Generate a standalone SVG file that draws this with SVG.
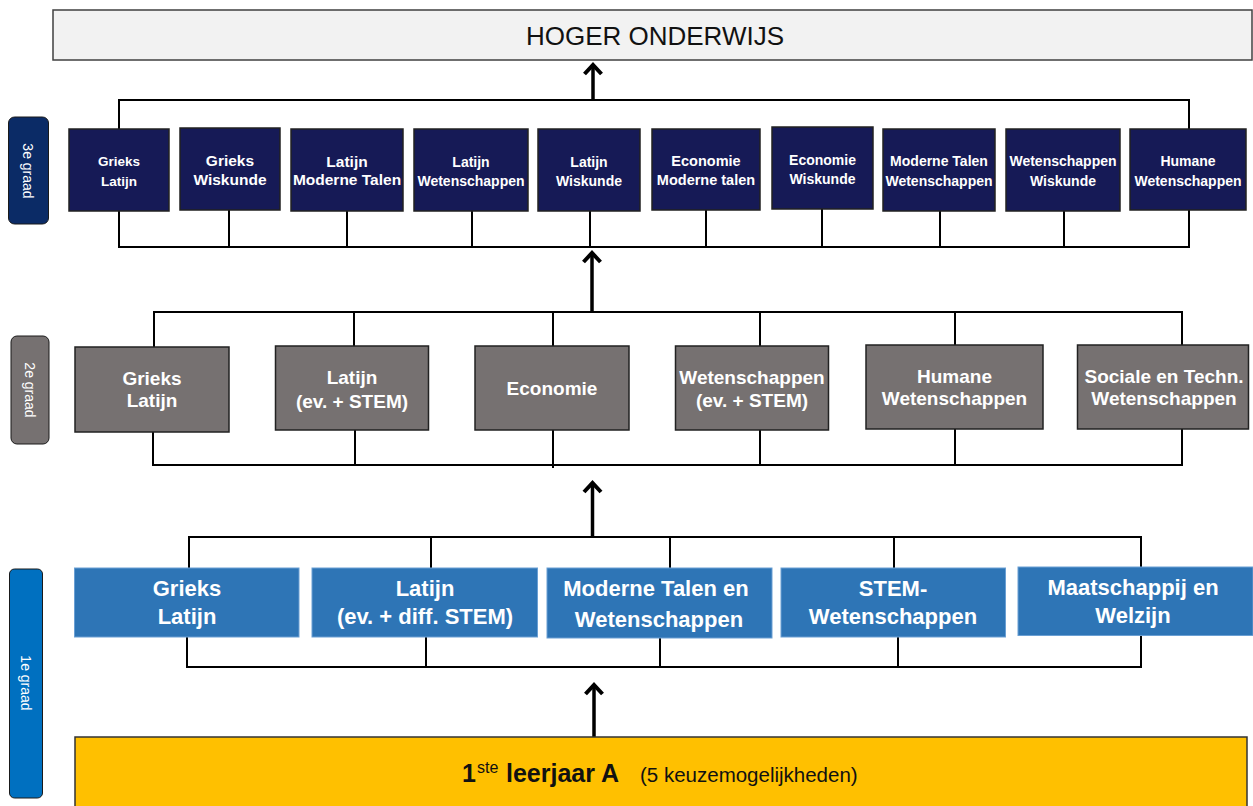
<svg xmlns="http://www.w3.org/2000/svg" width="1253" height="806" viewBox="0 0 1253 806">
<style>
.t{font-family:"Liberation Sans",Arial,sans-serif;font-weight:bold;fill:#fff;text-anchor:middle}
.n3{fill:#161a56;stroke:#222;stroke-width:1.5}
.n2{fill:#767171;stroke:#222;stroke-width:1.5}
.n1{fill:#2e75b6;stroke:#6a9fd3;stroke-width:1}
.lbl{font-family:"Liberation Sans",Arial,sans-serif;fill:#fff;text-anchor:middle;font-size:14px}
.c{fill:none;stroke:#000;stroke-width:2}
.a{fill:none;stroke:#000;stroke-width:3.5;marker-end:url(#ah)}
</style>
<defs>
<marker id="ah" viewBox="-20 -12 26 24" markerWidth="26" markerHeight="24" refX="0" refY="0" orient="auto" markerUnits="userSpaceOnUse">
<path d="M-9,-8.5 L0,0 L-9,8.5" fill="none" stroke="#000" stroke-width="4"/>
</marker>
</defs>
<rect width="1253" height="806" fill="#fff"/>

<g id="hoger">
<rect x="53" y="10" width="1199" height="50" fill="#f2f2f2" stroke="#404040" stroke-width="1.5"/>
<text x="655" y="45" font-family="Liberation Sans,Arial,sans-serif" font-size="26" fill="#111" text-anchor="middle">HOGER ONDERWIJS</text>
</g>

<g id="label3">
<rect x="8.5" y="117" width="40" height="107" rx="6" fill="#0b2b66" stroke="#1a1a1a" stroke-width="1"/>
<text class="lbl" transform="translate(23,171) rotate(90)">3e graad</text>
</g>
<g id="label2">
<rect x="11" y="336" width="38" height="108" rx="6" fill="#767171" stroke="#1a1a1a" stroke-width="1"/>
<text class="lbl" transform="translate(25,390) rotate(90)">2e graad</text>
</g>
<g id="label1">
<rect x="9.5" y="569" width="33" height="229" rx="5" fill="#0070c0" stroke="#1a1a1a" stroke-width="1"/>
<text class="lbl" transform="translate(21,683) rotate(90)">1e graad</text>
</g>

<g id="connectors">
<path class="c" d="M119,129 V100 H1189 V129"/>
<path class="c" d="M119,211 V247 H1189 V210 M229,210 V247 M347,211 V247 M472,211 V247 M590,211 V247 M706,210 V247 M822,209 V247 M940,211 V247 M1064,211 V247"/>
<path class="a" d="M593,99 V65"/>
<path class="c" d="M154,347 V312 H1182 V345 M354,312 V346 M553,312 V346 M760,312 V346 M955,312 V345"/>
<path class="c" d="M153,432 V465 H1182 V429 M355,430 V465 M553,430 V468 M760,430 V465 M955,429 V465"/>
<path class="a" d="M592,311 V253"/>
<path class="c" d="M189,568 V537 H1141 V567 M431,537 V568 M670,537 V568 M894,537 V568"/>
<path class="c" d="M187,637 V667 H1141 V636 M426,637 V667 M660,638 V667 M898,637 V667"/>
<path class="a" d="M592.5,536 V483"/>
<path class="a" d="M594,737 V685"/>
</g>

<g id="g3-1"><rect class="n3" x="69" y="129" width="100" height="82"/><text class="t" font-size="13.5"><tspan x="119" y="166">Grieks</tspan><tspan x="119" y="186">Latijn</tspan></text></g>
<g id="g3-2"><rect class="n3" x="180" y="128" width="100" height="82"/><text class="t" font-size="15.5"><tspan x="230" y="165.5">Grieks</tspan><tspan x="230" y="185">Wiskunde</tspan></text></g>
<g id="g3-3"><rect class="n3" x="291" y="129" width="112" height="82"/><text class="t" font-size="15.5"><tspan x="347" y="166.5">Latijn</tspan><tspan x="347" y="185">Moderne Talen</tspan></text></g>
<g id="g3-4"><rect class="n3" x="414" y="129" width="114" height="82"/><text class="t" font-size="14"><tspan x="471" y="167">Latijn</tspan><tspan x="471" y="186">Wetenschappen</tspan></text></g>
<g id="g3-5"><rect class="n3" x="538" y="129" width="102" height="82"/><text class="t" font-size="14"><tspan x="589" y="166.5">Latijn</tspan><tspan x="589" y="186">Wiskunde</tspan></text></g>
<g id="g3-6"><rect class="n3" x="652" y="129" width="108" height="81"/><text class="t" font-size="14.5"><tspan x="706" y="165.5">Economie</tspan><tspan x="706" y="185">Moderne talen</tspan></text></g>
<g id="g3-7"><rect class="n3" x="772" y="127" width="101" height="82"/><text class="t" font-size="14"><tspan x="822.5" y="164.5">Economie</tspan><tspan x="822.5" y="184">Wiskunde</tspan></text></g>
<g id="g3-8"><rect class="n3" x="883" y="129" width="112" height="82"/><text class="t" font-size="14"><tspan x="939" y="166">Moderne Talen</tspan><tspan x="939" y="185.5">Wetenschappen</tspan></text></g>
<g id="g3-9"><rect class="n3" x="1006" y="129" width="114" height="82"/><text class="t" font-size="14"><tspan x="1063" y="166">Wetenschappen</tspan><tspan x="1063" y="186">Wiskunde</tspan></text></g>
<g id="g3-10"><rect class="n3" x="1130" y="129" width="116" height="81"/><text class="t" font-size="14"><tspan x="1188" y="165.5">Humane</tspan><tspan x="1188" y="185.5">Wetenschappen</tspan></text></g>

<g id="g2-1"><rect class="n2" x="75" y="347" width="154" height="85"/><text class="t" font-size="19"><tspan x="152" y="385">Grieks</tspan><tspan x="152" y="407">Latijn</tspan></text></g>
<g id="g2-2"><rect class="n2" x="275.5" y="346" width="153" height="84"/><text class="t" font-size="19"><tspan x="352" y="383.5">Latijn</tspan><tspan x="352" y="407.5">(ev. + STEM)</tspan></text></g>
<g id="g2-3"><rect class="n2" x="475" y="346" width="154" height="84"/><text class="t" font-size="19"><tspan x="552" y="395">Economie</tspan></text></g>
<g id="g2-4"><rect class="n2" x="675.5" y="346" width="153" height="84"/><text class="t" font-size="19"><tspan x="752" y="383.5">Wetenschappen</tspan><tspan x="752" y="406.5">(ev. + STEM)</tspan></text></g>
<g id="g2-5"><rect class="n2" x="866" y="345" width="177" height="84"/><text class="t" font-size="19"><tspan x="954.5" y="382.5">Humane</tspan><tspan x="954.5" y="405">Wetenschappen</tspan></text></g>
<g id="g2-6"><rect class="n2" x="1077.5" y="345" width="171" height="84"/><text class="t" font-size="19"><tspan x="1164" y="382.5">Sociale en Techn.</tspan><tspan x="1164" y="405">Wetenschappen</tspan></text></g>

<g id="g1-1"><rect class="n1" x="74.5" y="568" width="224.5" height="69"/><text class="t" font-size="22"><tspan x="187" y="596">Grieks</tspan><tspan x="187" y="624">Latijn</tspan></text></g>
<g id="g1-2"><rect class="n1" x="312" y="568" width="225.5" height="69"/><text class="t" font-size="22"><tspan x="425" y="596">Latijn</tspan><tspan x="425" y="624">(ev. + diff. STEM)</tspan></text></g>
<g id="g1-3"><rect class="n1" x="547" y="568" width="225" height="70"/><text class="t" font-size="22"><tspan x="656" y="596">Moderne Talen en</tspan><tspan x="659" y="627">Wetenschappen</tspan></text></g>
<g id="g1-4"><rect class="n1" x="781" y="568" width="224.5" height="69"/><text class="t" font-size="22"><tspan x="893" y="596">STEM-</tspan><tspan x="893" y="624">Wetenschappen</tspan></text></g>
<g id="g1-5"><rect class="n1" x="1018" y="567" width="235" height="68.5"/><text class="t" font-size="22"><tspan x="1133" y="595">Maatschappij en</tspan><tspan x="1133" y="622.5">Welzijn</tspan></text></g>

<g id="leerjaar">
<rect x="75" y="737" width="1172" height="80" fill="#ffc000" stroke="#333" stroke-width="1.5"/>
<text font-family="Liberation Sans,Arial,sans-serif" fill="#111"><tspan x="462" y="782" font-weight="bold" font-size="25">1</tspan><tspan x="477" y="773" font-size="16">ste</tspan><tspan x="506" y="782" font-weight="bold" font-size="25">leerjaar A</tspan><tspan x="640" y="782" font-size="20.5">(5 keuzemogelijkheden)</tspan></text>
</g>
</svg>
